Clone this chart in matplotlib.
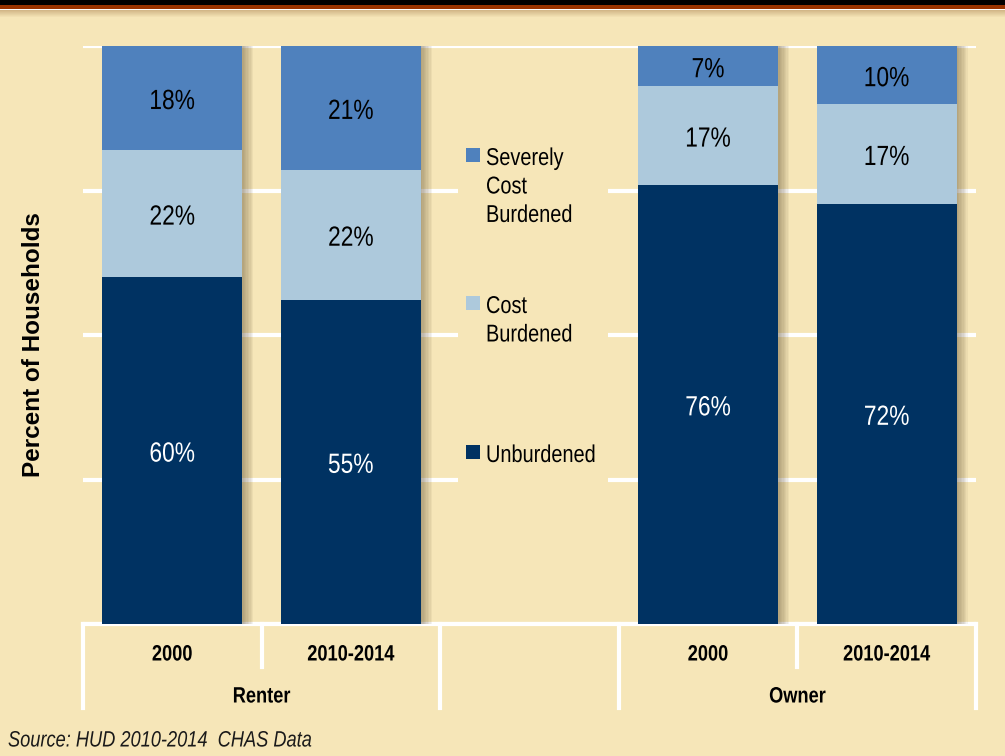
import numpy as np
import matplotlib
matplotlib.use('Agg')
import matplotlib.pyplot as plt
import matplotlib.patheffects as pe
from matplotlib.patches import Rectangle
from matplotlib.transforms import Affine2D, blended_transform_factory, offset_copy

# dane
slots = ['2000', '2010-2014', '', '2000', '2010-2014']
groups = ['Renter', 'Owner']
bar_pos = [0, 1, 3, 4]
unburdened = [60, 55, 76, 72]
cost_burdened = [22, 22, 17, 17]
severely = [18, 21, 7, 10]
series_names = ['Severely\nCost\nBurdened', 'Cost\nBurdened', 'Unburdened']

bg = '#F6E6B8'
c_sev = '#4F81BD'
c_cost = '#ADC9DC'
c_unb = '#003262'
font = ['Liberation Sans', 'DejaVu Sans']


class Squeeze(pe.AbstractPathEffect):
    # zweza tekst w poziomie (zamiast Arial Narrow)
    def __init__(self, sx=0.82, anchor='center'):
        super().__init__()
        self.sx = sx
        self.anchor = anchor

    def draw_path(self, renderer, gc, tpath, affine, rgbFace=None):
        v = tpath.vertices
        if len(v):
            x0, x1 = v[:, 0].min(), v[:, 0].max()
        else:
            x0 = x1 = 0
        cx = (x0 + x1) / 2 if self.anchor == 'center' else x0
        t = Affine2D().translate(-cx, 0).scale(self.sx, 1).translate(cx, 0)
        renderer.draw_path(gc, tpath, t + affine, rgbFace)


sq_c = [Squeeze(0.82, 'center')]
sq_l = [Squeeze(0.82, 'left')]

W, H = 1005, 756
fig = plt.figure(figsize=(W / 100, H / 100), dpi=100, facecolor=bg)


def fx(x):
    return x / W


def fy(y):
    return 1 - y / H


# pasek u gory
fig.add_artist(Rectangle((0, fy(5)), 1, 5 / H, transform=fig.transFigure, color='black', lw=0))
fig.add_artist(Rectangle((0, fy(9)), 1, 4 / H, transform=fig.transFigure, color='#993300', lw=0))
fig.add_artist(Rectangle((0, fy(10)), 1, 1 / H, transform=fig.transFigure, color='white', lw=0))
for i in range(7):
    fig.add_artist(Rectangle((0, fy(11 + i)), 1, 1 / H, transform=fig.transFigure,
                             color='#b08a5a', alpha=0.5 * (1 - i / 7), lw=0))

ax = fig.add_axes([fx(83), fy(624), fx(976 - 83), (624 - 46) / H])
ax.set_facecolor(bg)
ax.set_xlim(-0.5, 4.5)
ax.set_ylim(0, 100)

# 100% skumulowane
vals = np.array([unburdened, cost_burdened, severely], dtype=float)
totals = vals.sum(axis=0)
norm = vals / totals * 100
colors = [c_unb, c_cost, c_sev]
txt_colors = ['white', 'black', 'black']
shadow = [pe.SimplePatchShadow(offset=(d, 0), shadow_rgbFace='#6b5a3a', alpha=0.07)
          for d in [8, 7, 6, 5, 4, 3, 2, 1]] + [pe.Normal()]
lab_tr = offset_copy(ax.transData, fig=fig, y=-4, units='dots')
bottom = np.zeros(len(bar_pos))
for k in range(3):
    bars = ax.bar(bar_pos, norm[k], bottom=bottom, width=0.784, color=colors[k], zorder=3)
    for b in bars:
        b.set_path_effects(shadow)
    for i, x in enumerate(bar_pos):
        ax.text(x, bottom[i] + norm[k][i] / 2, f'{vals[k][i]:.0f}%', ha='center', va='center',
                fontsize=20, color=txt_colors[k], family=font, zorder=5, path_effects=sq_c,
                transform=lab_tr)
    bottom += norm[k]

# siatka
ax.set_yticks([0, 25, 50, 75, 100])
ax.yaxis.grid(True, color='white', lw=3)
ax.set_axisbelow(True)
ax.tick_params(left=False, bottom=False, labelleft=False, labelbottom=False)
for s in ['left', 'right', 'top']:
    ax.spines[s].set_visible(False)
ax.spines['bottom'].set_color('white')
ax.spines['bottom'].set_linewidth(3)

# os x: kategorie
tr = blended_transform_factory(ax.transData, ax.transAxes)
ah = 624 - 46
for x in [-0.5, 1.5, 2.5, 4.5]:
    ax.plot([x, x], [0, -84 / ah], color='white', lw=3, transform=tr, clip_on=False)
for x in [0.5, 3.5]:
    ax.plot([x, x], [0, -43 / ah], color='white', lw=3, transform=tr, clip_on=False)
for i, lab in enumerate(slots):
    ax.text(i, -31 / ah, lab, transform=tr, ha='center', va='center', fontsize=16,
            fontweight='bold', family=font, path_effects=sq_c)
for g, x in zip(groups, [0.5, 3.5]):
    ax.text(x, -73 / ah, g, transform=tr, ha='center', va='center', fontsize=16,
            fontweight='bold', family=font, path_effects=sq_c)

# legenda
fig.add_artist(Rectangle((fx(458), fy(488)), fx(150), (488 - 130) / H, transform=fig.transFigure,
                         color=bg, lw=0, zorder=2.5))
leg_y = [156, 304, 453]
for name, col, y in zip(series_names, [c_sev, c_cost, c_unb], leg_y):
    fig.add_artist(Rectangle((fx(466), fy(y + 6)), fx(14), 14 / H, transform=fig.transFigure,
                             color=col, lw=0, zorder=4))
    fig.text(fx(486), fy(y - 8), name, ha='left', va='top', fontsize=17.5, family=font,
             linespacing=1.38, zorder=4, path_effects=sq_l)

fig.text(fx(34), fy(345), 'Percent of Households', rotation=90, ha='center', va='center',
         fontsize=17.5, fontweight='bold', family=font)
fig.text(fx(8), fy(741), 'Source: HUD 2010-2014  CHAS Data', ha='left', va='center',
         fontsize=16, style='italic', family=font, color='#1a1a1a', path_effects=sq_l)

fig.savefig('out.png', dpi=100, facecolor=bg)
